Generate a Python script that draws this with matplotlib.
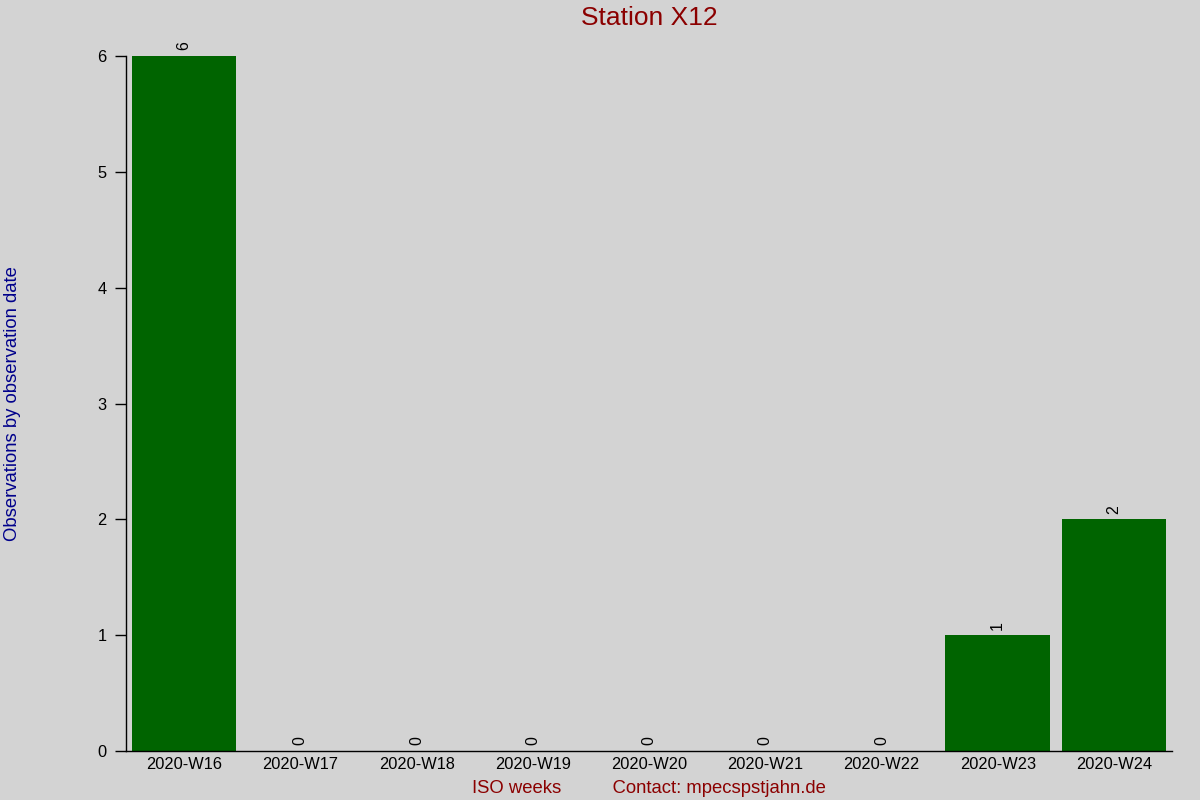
import matplotlib
matplotlib.use("Agg")
import matplotlib.pyplot as plt

weeks = ["2020-W16", "2020-W17", "2020-W18", "2020-W19", "2020-W20",
         "2020-W21", "2020-W22", "2020-W23", "2020-W24"]
counts = [6, 0, 0, 0, 0, 0, 0, 1, 2]
yticks = [0, 1, 2, 3, 4, 5, 6]

plt.rcParams['font.family'] = ['Liberation Sans', 'DejaVu Sans']
bg = '#d3d3d3'
fig = plt.figure(figsize=(12, 8), dpi=100, facecolor=bg)
ax = fig.add_axes([0.105, 0.06125, 0.8717, 0.86875], facecolor=bg)

x = list(range(len(weeks)))
bars = ax.bar(x, counts, width=0.9, color='#006400', zorder=2)
for xi, c in zip(x, counts):
    ax.annotate(str(c), (xi, c), xytext=(0, 4), textcoords='offset points',
                rotation=90, ha='center', va='bottom', fontsize=11.5, color='black')
# tiny marks at the top of the scale
ax.scatter(x, [max(counts)] * len(x), s=0.5, marker='s', linewidths=0,
           color='black', zorder=1)

ax.set_xlim(-0.5, len(weeks) - 0.5)
ax.set_ylim(0, max(yticks))
ax.set_yticks(yticks)
ax.set_xticks(x)
ax.set_xticklabels(weeks, fontsize=11.8)
ax.tick_params(axis='x', length=0, pad=4)
ax.tick_params(axis='y', length=8, width=1, labelsize=11.8, pad=6, direction='out')
for s in ['top', 'right']:
    ax.spines[s].set_visible(False)
ax.spines['left'].set_linewidth(1)
ax.spines['bottom'].set_linewidth(1)

fig.text(0.5408, 1 - 18 / 800, "Station X12", color='#8b0000', fontsize=19,
         ha='center', va='center')
ax.set_xlabel("ISO weeks" + " " * 10 + "Contact: mpecspstjahn.de",
              color='#8b0000', fontsize=13.3, labelpad=6)
ax.set_ylabel("Observations by observation date", color='#00008b', fontsize=13.3)
ax.yaxis.set_label_coords(-0.1004, 0.5)

fig.savefig("out.png", dpi=100, facecolor=bg)
